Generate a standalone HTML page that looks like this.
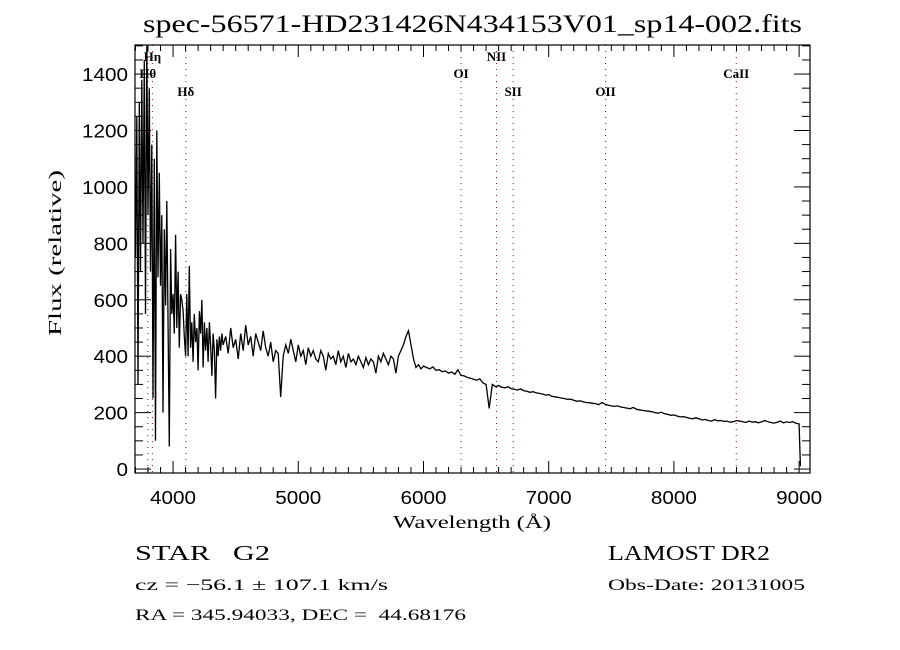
<!DOCTYPE html>
<html><head><meta charset="utf-8"><style>
html,body{margin:0;padding:0;background:#fff;}
svg{display:block;}
text{font-family:"Liberation Serif",serif;fill:#000;}
.tk{font-family:"Liberation Sans",sans-serif;font-size:18px;font-weight:300;}
</style></head><body>
<svg id="chart" width="900" height="650" viewBox="0 0 900 650" xmlns="http://www.w3.org/2000/svg">
<text x="143" y="32" font-size="25" textLength="659" lengthAdjust="spacingAndGlyphs">spec-56571-HD231426N434153V01_sp14-002.fits</text>
<g id="plot"></g>
<text x="393" y="528" font-size="18" textLength="158" lengthAdjust="spacingAndGlyphs">Wavelength (Å)</text>
<text transform="translate(61,336) rotate(-90)" font-size="18" textLength="166" lengthAdjust="spacingAndGlyphs">Flux (relative)</text>
<text x="135" y="560" font-size="21" textLength="135" lengthAdjust="spacingAndGlyphs" xml:space="preserve">STAR   G2</text>
<text x="135" y="590" font-size="16" textLength="253" lengthAdjust="spacingAndGlyphs">cz = −56.1 ± 107.1 km/s</text>
<text x="135" y="620" font-size="16" textLength="331" lengthAdjust="spacingAndGlyphs" xml:space="preserve">RA = 345.94033, DEC =  44.68176</text>
<text x="608" y="560" font-size="21" textLength="162" lengthAdjust="spacingAndGlyphs">LAMOST DR2</text>
<text x="608" y="590" font-size="16" textLength="197" lengthAdjust="spacingAndGlyphs">Obs-Date: 20131005</text>
</svg>
<script>
const waveBlue = [];
for (let w = 3700; w <= 4400; w += 10) waveBlue.push(w);
const fluxBlue = [750,1250,300,1300,700,1380,800,1450,550,1500,900,1350,700,1150,250,1100,100,1200,680,1050,650,900,200,850,580,950,500,80,780,550,620,480,830,500,700,430,620,600,560,470,400,620,400,720,430,520,380,550,450,500,350,560,480,600,360,520,420,500,380,520,440,330,480,420,250,460,400,470,420,480,440];
const waveMid = [];
for (let w = 4420; w <= 6000; w += 20) waveMid.push(w);
const fluxMid = [470,410,500,430,460,390,480,420,510,440,470,400,480,450,420,490,430,400,450,380,420,410,255,400,440,410,460,420,380,440,400,420,370,430,400,420,390,380,420,400,350,410,390,400,370,420,380,400,360,410,380,390,370,400,380,360,395,370,390,380,340,400,380,410,390,370,400,390,340,400,420,440,470,490,440,390,360,370,355,365];
const waveRed = [];
for (let w = 6025; w <= 9000; w += 25) waveRed.push(w);
const fluxRed = [360,355,362,350,352,345,348,340,344,336,352,332,330,325,322,318,315,320,305,300,215,300,292,296,290,288,292,285,283,280,284,278,276,272,274,270,268,266,262,264,258,256,254,252,250,247,248,244,240,242,238,236,235,233,232,228,236,230,226,224,222,224,220,218,216,214,218,212,210,208,206,205,203,200,198,201,196,194,190,192,188,185,186,183,180,178,182,178,174,176,172,170,175,171,172,169,170,166,168,172,170,168,165,170,166,168,164,167,172,168,165,163,166,170,164,167,165,168,162,160];
const waveTail = [9010];
const fluxTail = [10];
const xTicks = [4000,5000,6000,7000,8000,9000];
const yTicks = [0,200,400,600,800,1000,1200,1400];
const lineWaves = [3835,3798,4102,6300,6583,6716,7454,8498];
const lineLabels = ["Hη","Hθ","Hδ","OI","NII","SII","OII","CaII"];
const lineLabelY = [61,78,96,78,61,96,96,78];

const X0=135,X1=810,Y0=45,Y1=473;
const xMin=3696,xMax=9087,yMin=-14,yMax=1503;
const sx=w=>X0+(w-xMin)/(xMax-xMin)*(X1-X0);
const sy=f=>Y1-(f-yMin)/(yMax-yMin)*(Y1-Y0);
const NS="http://www.w3.org/2000/svg";
const g=document.getElementById('plot');
function mk(t,a){const e=document.createElementNS(NS,t);for(const k in a)e.setAttribute(k,a[k]);g.appendChild(e);return e;}

const defs=mk('defs',{});
const cp=document.createElementNS(NS,'clipPath');cp.setAttribute('id','clip');
const cr=document.createElementNS(NS,'rect');cr.setAttribute('x',X0);cr.setAttribute('y',Y0);cr.setAttribute('width',X1-X0);cr.setAttribute('height',Y1-Y0);
cp.appendChild(cr);defs.appendChild(cp);

lineWaves.forEach((w,i)=>{
  const l=mk('line',{x1:sx(w),x2:sx(w),y1:Y0,y2:Y1,stroke:'#8b1a1a','stroke-width':1,'stroke-dasharray':'1,5'});
  
  
  const t=mk('text',{x:sx(w),y:lineLabelY[i],'text-anchor':'middle','font-size':13,'font-weight':'bold'});
  t.textContent=lineLabels[i];
  
  
});

const W=waveBlue.concat(waveMid,waveRed,waveTail);
const F=fluxBlue.concat(fluxMid,fluxRed,fluxTail);
let d='';
W.forEach((w,i)=>{d+=(i?'L':'M')+sx(w).toFixed(1)+','+sy(F[i]).toFixed(1);});
const p=mk('path',{d:d,fill:'none',stroke:'#000','stroke-width':1.3,'clip-path':'url(#clip)','stroke-linejoin':'miter'});



const fr=mk('rect',{x:X0,y:Y0,width:X1-X0,height:Y1-Y0,fill:'none',stroke:'#000','stroke-width':1.2});



for(let w=3700;w<=xMax;w+=100){
  const big=w%1000===0, len=big?12:6;
  mk('line',{x1:sx(w),x2:sx(w),y1:Y1,y2:Y1-len,stroke:'#000','stroke-width':1});
  mk('line',{x1:sx(w),x2:sx(w),y1:Y0,y2:Y0+len,stroke:'#000','stroke-width':1});
}
xTicks.forEach(w=>{
  const t=mk('text',{x:sx(w)-23,y:Y1+31,class:'tk',textLength:46,lengthAdjust:'spacingAndGlyphs'});
  t.textContent=w;
  
  
});
for(let f=0;f<=yMax;f+=50){
  const big=f%200===0, len=big?16:8;
  mk('line',{x1:X0,x2:X0+len,y1:sy(f),y2:sy(f),stroke:'#000','stroke-width':1});
  mk('line',{x1:X1,x2:X1-len,y1:sy(f),y2:sy(f),stroke:'#000','stroke-width':1});
}
yTicks.forEach(f=>{
  const n=String(f).length;
  const t=mk('text',{x:X0-7-n*11.5,y:sy(f)+7,class:'tk',textLength:n*11.5,lengthAdjust:'spacingAndGlyphs'});
  t.textContent=f;
  
  
});
</script>
</body></html>
